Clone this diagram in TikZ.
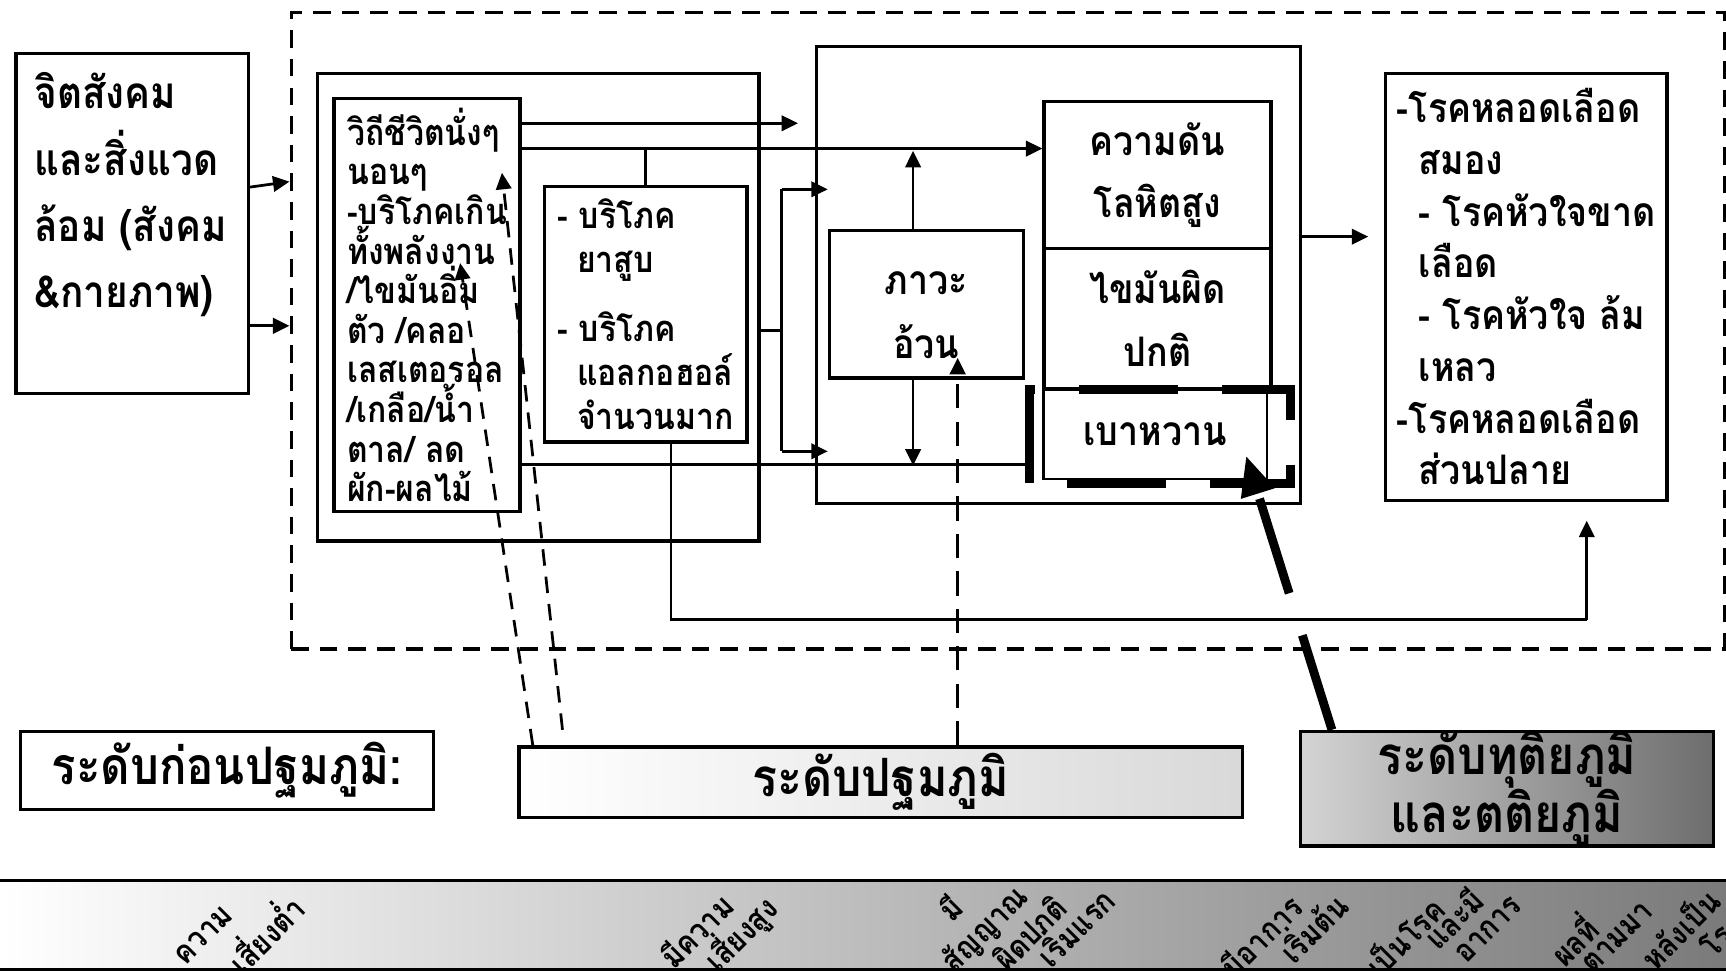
\documentclass[tikz,border=0pt]{standalone}
\usepackage{fontspec}
\usepackage{tikz}
\usetikzlibrary{calc, arrows.meta}
\newfontfamily\thaifont[Script=Thai, FakeStretch=0.88]{Loma}
\newcommand{\thaisize}[2]{\thaifont\bfseries\fontsize{#1}{#2}\selectfont}

\tikzset{
  box/.style={draw, line width=3pt, inner sep=0pt, anchor=north west},
  link/.style={line width=2.5pt},
  tip/.style={-{Triangle[length=15pt, width=14pt]}},
  bigtip/.style={-{Triangle[length=36pt, width=30pt]}},
  dashlink/.style={line width=2.5pt, dash pattern=on 15pt off 10pt},
  droplink/.style={line width=3pt, dash pattern=on 22pt off 12pt},
  thickdash/.style={line width=8pt, dash pattern=on 90pt off 40pt},
  rot/.style={rotate=45, inner sep=0pt, font=\thaisize{29}{34}},
}

\begin{document}
\begin{tikzpicture}[x=1pt, y=-1pt]
  \useasboundingbox (0, 0) rectangle (1568, 882);

  % context
  \node[box, minimum width=211pt, minimum height=309pt] (env) at (13, 47) {};
  \node[anchor=north west, align=left, inner sep=0pt, font=\thaisize{40}{60}] (envtxt) at (31, 66)
    {จิตสังคม\\และสิ่งแวด\\ล้อม (สังคม\\\&กายภาพ)};

  \node[box, dash pattern=on 16pt off 10pt, minimum width=1302pt, minimum height=578pt] (zone) at (263, 10) {};

  % behaviour
  \node[box, minimum width=401pt, minimum height=425pt] (behav) at (287, 65) {};
  \node[box, minimum width=169pt, minimum height=375pt, align=left, font=\thaisize{33}{36}] (life) at (302, 88)
    {วิถีชีวิตนั่งๆ\\นอนๆ\\-บริโภคเกิน\\ทั้งพลังงาน\\/ไขมันอิ่ม\\ตัว /คลอ\\เลสเตอรอล\\/เกลือ/น้ำ\\ตาล/ ลด\\ผัก-ผลไม้};
  \node[box, minimum width=184pt, minimum height=232pt, align=left, font=\thaisize{33}{40}] (habit) at (493, 168)
    {- บริโภค\\\hspace*{18pt}ยาสูบ\\[22pt]- บริโภค\\\hspace*{18pt}แอลกอฮอล์\\\hspace*{18pt}จำนวนมาก};

  % conditions
  \node[box, minimum width=440pt, minimum height=415pt] (disease) at (740, 41) {};
  \node[box, minimum width=176pt, minimum height=134pt, align=center, font=\thaisize{37}{58}] (obese) at (752, 208)
    {\strut ภาวะ\\อ้วน};
  \node[box, minimum width=206pt, minimum height=133pt, align=center, font=\thaisize{37}{57}] (bp) at (947, 91)
    {ความดัน\\โลหิตสูง};
  \node[box, minimum width=206pt, minimum height=128pt, align=center, font=\thaisize{37}{57}] (lipid) at (947, 224)
    {ไขมันผิด\\ปกติ};
  \node[box, line width=2pt, minimum width=203pt, minimum height=82pt, font=\thaisize{37}{57}] (dm) at (947, 352)
    {เบาหวาน};

  \node[box, minimum width=256pt, minimum height=388pt, align=left, font=\thaisize{37}{47}] (outcome) at (1257, 65)
    {-โรคหลอดเลือด\\\hspace*{20pt}สมอง\\\hspace*{20pt}- โรคหัวใจขาด\\\hspace*{20pt}เลือด\\\hspace*{20pt}- โรคหัวใจ ล้ม\\\hspace*{20pt}เหลว\\-โรคหลอดเลือด\\\hspace*{20pt}ส่วนปลาย};

  % levels
  \node[box, fill=white, minimum width=375pt, minimum height=71pt, font=\thaisize{47}{40}] (prelvl) at (17, 663)
    {ระดับก่อนปฐมภูมิ:};
  \node[box, left color=white, right color=black!15, minimum width=657pt, minimum height=64pt, font=\thaisize{48}{40}] (primlvl) at (470, 677)
    {ระดับปฐมภูมิ};
  \node[box, left color=black!17, right color=black!57, minimum width=375pt, minimum height=97pt, align=center, font=\thaisize{48}{40}] (seclvl) at (1180, 663)
    {ระดับทุติยภูมิ\\และตติยภูมิ};

  % band
  \shade[left color=white, right color=black!52] (0, 800) rectangle (1568, 882);
  \draw[line width=3pt] (0, 800) -- (1568, 800);
  \draw[line width=3pt] (0, 881) -- (1568, 881);
  \begin{scope}
    \clip (0, 802) rectangle (1568, 879);
    \node[rot] (risklow1) at (185, 850) {ความ};
    \node[rot] (risklow2) at (240, 847) {เสี่ยงต่ำ};
    \node[rot] (riskhigh1) at (632, 845) {มีความ};
    \node[rot] (riskhigh2) at (673, 848) {เสี่ยงสูง};
    \node[rot] (early1) at (863, 824) {มี};
    \node[rot] (early2) at (895, 845) {สัญญาณ};
    \node[rot] (early3) at (935, 847) {ผิดปกติ};
    \node[rot] (early4) at (975, 840) {เริ่มแรก};
    \node[rot] (onset1) at (1145, 850) {มีอาการ};
    \node[rot] (onset2) at (1191, 841) {เริ่มต้น};
    \node[rot] (ill1) at (1275, 850) {เป็นโรค};
    \node[rot] (ill2) at (1320, 834) {และมี};
    \node[rot] (ill3) at (1352, 845) {อาการ};
    \node[rot] (sequel1) at (1428, 853) {ผลที่};
    \node[rot] (sequel2) at (1470, 852) {ตามมา};
    \node[rot] (sequel3) at (1525, 843) {หลังเป็น};
    \node[rot] (sequel4) at (1565, 848) {โรค};
  \end{scope}

  % links
  \draw[link, tip] (env.east |- 0,170) -- (zone.west |- 0,165);
  \draw[link, tip] (env.east |- 0,296) -- (zone.west |- 0,296);

  \draw[link, tip, shorten >=15pt] (life.east |- 0,112) -- (disease.west |- 0,112);
  \draw[link, tip] (life.east |- 0,135) -- (bp.west |- 0,135);
  \draw[link] (habit.north) -- (habit.north |- 0,135);
  \draw[link, shorten >=12pt] (life.east |- 0,422) -- (dm.west |- 0,422);

  \coordinate (join) at ($(outcome.south)+(55,107)$);
  \draw[link] ([xshift=23pt]habit.south) |- (join);
  \draw[link, tip] (join) -- ([xshift=55pt, yshift=-17pt]outcome.south);

  \coordinate (fork) at (710, 300);
  \draw[link] (behav.east |- fork) -- (fork);
  \draw[link] (fork |- 0,172) -- (fork |- 0,410);
  \draw[link, tip] (fork |- 0,172) -- (obese.west |- 0,172);
  \draw[link, tip] (fork |- 0,410) -- (obese.west |- 0,410);

  \draw[link, tip] ([xshift=-12pt]obese.north) -- ++(0, -71);
  \draw[link, tip] ([xshift=-12pt]obese.south) -- ++(0, 78);

  \draw[link, tip, shorten >=14pt] (disease.east |- 0,215) -- (outcome.west |- 0,215);

  % level pointers
  \draw[dashlink, tip] ($(primlvl.north west)+(14,0)$) -- ($(life.north west)+(116,151)$);
  \draw[dashlink, tip] ($(primlvl.north west)+(41,-14)$) -- ($(life.north west)+(154,69)$);
  \draw[droplink, tip] ($(primlvl.north west)+(400,0)$) -- ($(obese.south west)+(118,-20)$);

  \draw[thickdash] ($(dm.south west)+(-12,3)$) -- ($(dm.north west)+(-12,2)$)
    -- ($(dm.north east)+(20,2)$) -- ($(dm.south east)+(20,3)$) -- cycle;
  \draw[thickdash, bigtip] ($(seclvl.north west)+(30,0)$) -- ($(dm.south east)+(-20,-22)$);

\end{tikzpicture}
\end{document}
